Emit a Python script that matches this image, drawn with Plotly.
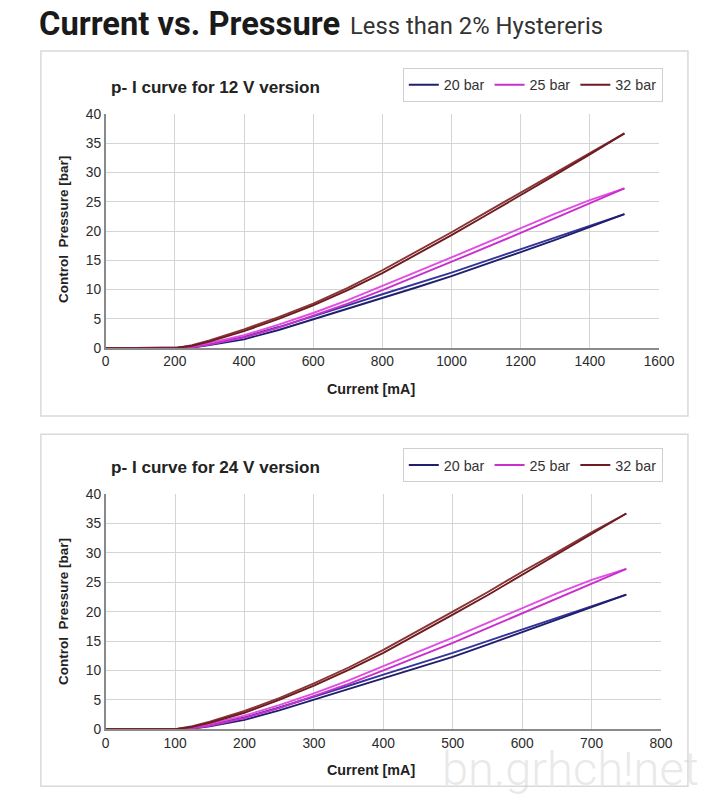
import plotly.graph_objects as go

# --- data -------------------------------------------------------------------
current_12v = [0, 100, 200, 250, 300, 400, 500, 600, 700, 800, 900, 1000, 1100, 1200, 1300, 1400, 1500]
current_24v = [0, 50, 100, 125, 150, 200, 250, 300, 350, 400, 450, 500, 550, 600, 650, 700, 750]

# 12 V version, rising / falling branch (hysteresis)
p20_up_12 = [0, 0, 0, 0.1, 0.5, 1.5, 3.1, 4.9, 6.8, 8.6, 10.4, 12.3, 14.3, 16.4, 18.5, 20.7, 22.9]
p20_dn_12 = [0, 0, 0, 0.2, 0.8, 1.9, 3.6, 5.4, 7.3, 9.2, 11.0, 12.9, 14.9, 16.9, 18.9, 20.9, 22.9]
p25_up_12 = [0, 0, 0, 0.1, 0.6, 1.8, 3.5, 5.5, 7.6, 9.9, 12.3, 14.7, 17.2, 19.7, 22.2, 24.8, 27.3]
p25_dn_12 = [0, 0, 0, 0.2, 0.9, 2.2, 4.0, 6.0, 8.2, 10.6, 13.0, 15.5, 18.0, 20.5, 23.0, 25.3, 27.3]
p32_up_12 = [0, 0, 0, 0.4, 1.1, 2.9, 5.0, 7.3, 9.9, 12.8, 16.0, 19.3, 22.7, 26.1, 29.6, 33.1, 36.7]
p32_dn_12 = [0, 0, 0, 0.5, 1.3, 3.2, 5.3, 7.6, 10.3, 13.3, 16.5, 19.8, 23.2, 26.6, 30.0, 33.4, 36.7]

# 24 V version
p20_up_24 = [0, 0, 0, 0.1, 0.5, 1.6, 3.2, 5.0, 6.9, 8.7, 10.5, 12.3, 14.4, 16.5, 18.6, 20.8, 22.9]
p20_dn_24 = [0, 0, 0, 0.2, 0.8, 2.0, 3.7, 5.5, 7.4, 9.3, 11.1, 13.0, 15.0, 17.0, 19.0, 21.0, 22.9]
p25_up_24 = [0, 0, 0, 0.1, 0.6, 1.9, 3.6, 5.6, 7.7, 10.0, 12.3, 14.7, 17.2, 19.7, 22.2, 24.8, 27.3]
p25_dn_24 = [0, 0, 0, 0.2, 0.9, 2.3, 4.1, 6.1, 8.3, 10.7, 13.1, 15.6, 18.1, 20.6, 23.1, 25.4, 27.3]
p32_up_24 = [0, 0, 0, 0.4, 1.1, 2.8, 5.0, 7.4, 10.1, 13.0, 16.2, 19.5, 22.8, 26.3, 29.7, 33.2, 36.7]
p32_dn_24 = [0, 0, 0, 0.5, 1.3, 3.1, 5.3, 7.8, 10.5, 13.5, 16.7, 20.0, 23.3, 26.8, 30.1, 33.5, 36.7]

series_names = ["20 bar", "25 bar", "32 bar"]
colors_up = ["#1f1f6e", "#c92fcc", "#6e1c22"]
colors_dn = ["#34349a", "#e04ee2", "#8a3434"]

W, H = 716, 802
# the photographed page comes out slightly shrunk/offset; map target pixels back
SX, AX, SY, AY = 0.975, 4.0, 0.981, 6.0


def px_x(v):
    return (v - AX) / SX / W


def px_y(v):
    return 1 - (v - AY) / SY / H


def fs(v):
    return round(v / ((SX + SY) / 2), 1)


fig = go.Figure()

panels = [
    (current_12v, [(p20_up_12, p20_dn_12), (p25_up_12, p25_dn_12), (p32_up_12, p32_dn_12)], "x", "y", "legend"),
    (current_24v, [(p20_up_24, p20_dn_24), (p25_up_24, p25_dn_24), (p32_up_24, p32_dn_24)], "x2", "y2", "legend2"),
]

for cur, curves, xa, ya, lg in panels:
    for i, (up, dn) in enumerate(curves):
        fig.add_scatter(x=cur, y=dn, mode="lines", xaxis=xa, yaxis=ya,
                        line=dict(color=colors_dn[i], width=1.9),
                        showlegend=False, hoverinfo="skip")
        fig.add_scatter(x=cur, y=up, mode="lines", xaxis=xa, yaxis=ya,
                        name=series_names[i], legend=lg,
                        line=dict(color=colors_up[i], width=1.9))

axis_common = dict(
    showgrid=True, gridcolor="#d4d4d4", gridwidth=1,
    zeroline=False, showline=True, linecolor="#8a8a8a", linewidth=1.5,
    ticks="", tickfont=dict(family="Liberation Sans, Arial", size=fs(13.5), color="#2b2b2b"),
    fixedrange=True,
)

legend_common = dict(orientation="h", xanchor="left", yanchor="middle",
                     bordercolor="#d0d0d0", borderwidth=1, bgcolor="white",
                     font=dict(size=fs(14), color="#333"), itemwidth=30, tracegroupgap=0)

fig.update_layout(
    width=W, height=H,
    margin=dict(l=0, r=0, t=0, b=0),
    paper_bgcolor="white", plot_bgcolor="white",
    font=dict(family="Liberation Sans, Arial", color="#222"),
    xaxis=dict(axis_common, domain=[px_x(106), px_x(661)], range=[0, 1600], dtick=200,
               anchor="y"),
    yaxis=dict(axis_common, domain=[px_y(347), px_y(113)], range=[0, 40], dtick=5,
               anchor="x"),
    xaxis2=dict(axis_common, domain=[px_x(106), px_x(663)], range=[0, 800], dtick=100,
                anchor="y2"),
    yaxis2=dict(axis_common, domain=[px_y(728), px_y(493)], range=[0, 40], dtick=5,
                anchor="x2"),
    legend=dict(legend_common, x=px_x(404), y=px_y(84)),
    legend2=dict(legend_common, x=px_x(404), y=px_y(464)),
    showlegend=True,
)

# panel frames
for top, bottom in [(50, 415), (433, 785)]:
    fig.add_shape(type="rect", xref="paper", yref="paper",
                  x0=px_x(41), x1=px_x(690), y0=px_y(bottom), y1=px_y(top),
                  line=dict(color="#d9d9d9", width=1.5), layer="below")

# header
fig.add_annotation(x=px_x(37), y=px_y(23), xref="paper", yref="paper",
                   xanchor="left", yanchor="middle", showarrow=False,
                   text="<b>Current vs. Pressure</b>",
                   font=dict(family="Roboto", size=fs(32), color="#1a1a1a"))
fig.add_annotation(x=px_x(349), y=px_y(25), xref="paper", yref="paper",
                   xanchor="left", yanchor="middle", showarrow=False,
                   text="Less than 2% Hystereris",
                   font=dict(family="Roboto", size=fs(23.3), color="#333"))

# panel titles and axis titles
for title, ty, xt_y, yt_y in [("p- I curve for 12 V version", 86, 388, 228),
                              ("p- I curve for 24 V version", 466, 769, 610)]:
    fig.add_annotation(x=px_x(109), y=px_y(ty), xref="paper", yref="paper",
                       xanchor="left", yanchor="middle", showarrow=False,
                       text="<b>" + title + "</b>",
                       font=dict(size=fs(16.7), color="#222"))
    fig.add_annotation(x=px_x(372), y=px_y(xt_y), xref="paper", yref="paper",
                       xanchor="center", yanchor="middle", showarrow=False,
                       text="<b>Current [mA]</b>", font=dict(size=fs(14), color="#222"))
    fig.add_annotation(x=px_x(63), y=px_y(yt_y), xref="paper", yref="paper",
                       xanchor="center", yanchor="middle", showarrow=False, textangle=-90,
                       text="<b>Control  Pressure [bar]</b>", font=dict(size=fs(13.2), color="#222"))

# watermark
fig.add_annotation(x=px_x(572), y=px_y(767), xref="paper", yref="paper",
                   xanchor="center", yanchor="middle", showarrow=False,
                   text="bn.grhch!net",
                   font=dict(family="Roboto", size=fs(46), weight=300,
                             color="rgba(205,205,205,0.45)"))

# no page margin / scrollbars
page_fix = ("document.documentElement.style.margin='0';"
            "document.body.style.margin='0';"
            "document.documentElement.style.overflow='hidden';"
            "document.body.style.overflow='hidden';")
fig.write_html("out.html", post_script=page_fix, config={"displayModeBar": False})
